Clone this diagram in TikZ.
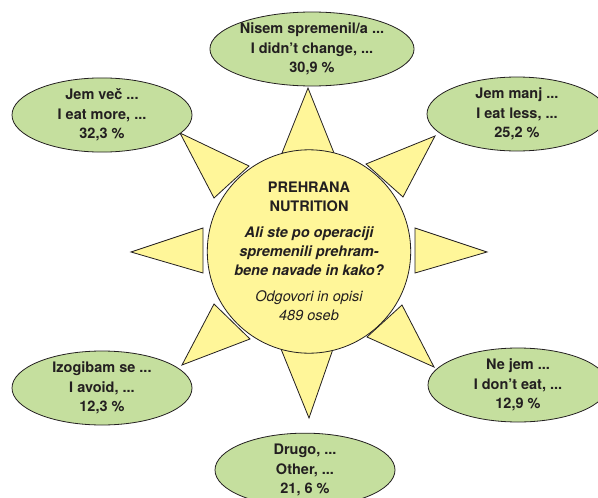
\documentclass[tikz,border=0pt]{standalone}
\usepackage{fontspec}
\setmainfont{TeX Gyre Heros}
\usetikzlibrary{shapes.geometric}
\definecolor{sunyellow}{HTML}{FFF699}
\definecolor{leafgreen}{HTML}{C5DF9E}
\definecolor{inkgray}{HTML}{231F20}

\begin{document}
\begin{tikzpicture}[x=1pt,y=-1pt,
	answer node/.style={ellipse,draw=inkgray,line width=0.8pt,fill=leafgreen,minimum width=180pt,minimum height=70pt,inner sep=0pt,align=center,text=inkgray,font=\fontsize{14.5}{19.5}\selectfont\bfseries},
	sun node/.style={circle,draw=inkgray,line width=0.8pt,fill=sunyellow,minimum size=186pt,inner sep=0pt,align=center,text=inkgray,font=\fontsize{14.5}{19}\selectfont},
	ray/.style={draw=inkgray,line width=0.8pt,fill=sunyellow,line join=miter}
]
	\clip (0,0) rectangle (598,498);

	% rays of the sun
	\foreach \ax/\ay/\bx/\by/\cx/\cy in {308/88/282/153/334/153, 435/136/366/164/403/197,
		487/252/415/228/415/273, 434/367/402/305/367/337, 309/418/281/349/333/349,
		182/365/214/304/250/339, 131/252/203/228/203/273, 180/133/249/166/214/198} {
		\draw[ray] (\ax,\ay) -- (\bx,\by) -- (\cx,\cy) -- cycle;
	}

	\node[sun node] at (309,251.5) (sun) {\textbf{PREHRANA}\\\textbf{NUTRITION}\\[7pt]
		{\bfseries\itshape Ali ste po operaciji}\\{\bfseries\itshape spremenili prehram-}\\{\bfseries\itshape bene navade in kako?}\\[7pt]
		{\itshape Odgovori in opisi}\\{\itshape 489 oseb}};

	\node[answer node] at (312,49) (same) {Nisem spremenil/a ...\\I didn’t change, ...\\30,9 \%};
	\node[answer node] at (102,115) (more) {Jem več ...\\I eat more, ...\\32,3 \%};
	\node[answer node] at (517,114) (less) {Jem manj ...\\I eat less, ...\\25,2 \%};
	\node[answer node] at (102,388) (avoid) {Izogibam se ...\\I avoid, ...\\12,3 \%};
	\node[answer node] at (518,385) (donteat) {Ne jem ...\\I don’t eat, ...\\12,9 \%};
	\node[answer node] at (305,470) (other) {Drugo, ...\\Other, ...\\21, 6 \%};
\end{tikzpicture}
\end{document}
